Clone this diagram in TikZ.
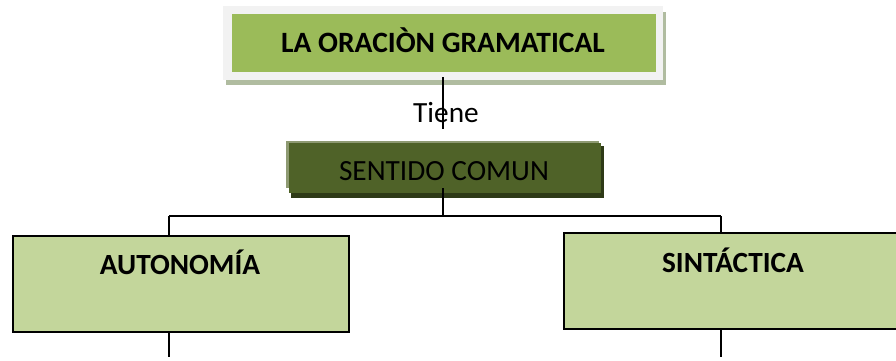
\documentclass[tikz,border=0pt]{standalone}
\usepackage{fontspec}
\setmainfont{Carlito}
\usetikzlibrary{fit}
\definecolor{tgreen}{HTML}{9BBB59}
\definecolor{tframe}{HTML}{F2F2F2}
\definecolor{tshadow}{HTML}{B0BCA0}
\definecolor{olive}{HTML}{4F6228}
\definecolor{olivelight}{HTML}{8E9A72}
\definecolor{olivedark}{HTML}{2E3A17}
\definecolor{lgreen}{HTML}{C3D69B}
\begin{document}
\begin{tikzpicture}[x=1pt,y=-1pt,
  plain/.style={inner sep=0pt,outer sep=0pt},
  conn/.style={draw=black,line width=1.8pt},
  lowbox/.style={draw=black,line width=2.4pt,fill=lgreen,inner sep=0pt},
  txt/.style={inner sep=0pt,anchor=base,font=\fontsize{29.3}{33}\selectfont},
  btxt/.style={txt,font=\fontsize{29.3}{33}\selectfont\bfseries}]
\useasboundingbox (0,0) rectangle (896,360);
% top box
\node[plain,fill=tshadow,fit={(226,12)(666,85)}] (topsh) {};
\node[plain,fill=tframe,fit={(223,6)(663,80)}] (top) {};
\node[plain,fill=tgreen,fit={(232,14)(656,72)}] (topin) {};
\node[btxt,font=\fontsize{29.5}{33}\selectfont\bfseries] (ttop) at (443,52) {LA ORACIÒN GRAMATICAL};
% Tiene
\node[txt] (tiene) at (446,122) {Tiene};
% sentido comun
\node[plain,fill=olivelight,fit={(286,141)(599,188)}] (senl) {};
\node[plain,fill=olivedark,fit={(291,146)(604,198)}] (send) {};
\node[plain,fill=olive,fit={(289,143)(601,193)}] (sen) {};
\node[txt] (tsent) at (444,180) {SENTIDO COMUN};
% lower boxes
\node[lowbox,fit={(13,236)(349,332)}] (aut) {};
\node[lowbox,fit={(564,233)(900,329)}] (sin) {};
\node[btxt] (taut) at (180,274) {AUTONOMÍA};
\node[btxt] (tsin) at (733,272) {SINTÁCTICA};
% connectors
\coordinate (a1) at (443,77);
\coordinate (a2) at (443,129);
\coordinate (b1) at (443,188);
\coordinate (b2) at (443,216);
\coordinate (hl) at (169,216);
\coordinate (hr) at (721,216);
\coordinate (dl2) at (169,357);
\coordinate (dr2) at (721,357);
\draw[conn] (a1) -- (a2);
\draw[conn] (b1) -- (b2);
\draw[conn] (hl) -- (hr);
\draw[conn] (hl) -- (hl |- aut.north);
\draw[conn] (hr) -- (hr |- sin.north);
\draw[conn] (dl2 |- aut.south) -- (dl2);
\draw[conn] (dr2 |- sin.south) -- (dr2);
\end{tikzpicture}
\end{document}
